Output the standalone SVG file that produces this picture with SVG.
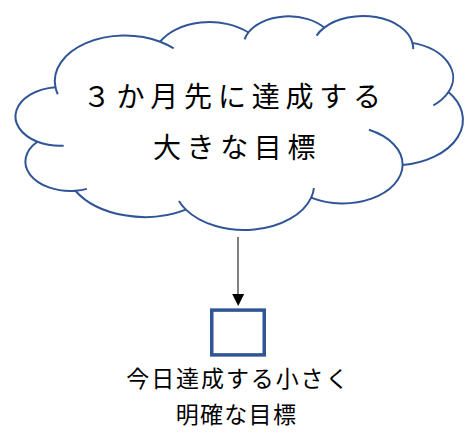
<svg xmlns="http://www.w3.org/2000/svg" width="472" height="439" viewBox="0 0 472 439">
  <style>
    .outline { stroke: #2F5597; stroke-width: 2; vector-effect: non-scaling-stroke; stroke-linejoin: round; }
    .txt { font-family: "Noto Sans CJK JP", "Noto Sans", sans-serif; fill: #000; text-anchor: middle; }
    .big { font-size: 28px; }
    .small { font-size: 23px; }
  </style>
  <rect width="472" height="439" fill="#fff"/>

  <g id="cloud">
    <g transform="translate(15,16) scale(0.0103704,0.0049537)">
      <path class="outline" fill="#fff" d="M3900,14370 A6753,9190 0 0 1 14000,5192 A5333,7267 0 0 1 22500,3330 A4365,5945 0 0 1 29820,2341 A4857,6595 0 0 1 38324,5426 A5333,7273 0 0 1 41798,15354 A6775,9220 0 0 1 37380,30090 A5785,7867 0 0 1 28560,36660 A6752,9215 0 0 1 16478,39090 A7720,10543 0 0 1 5820,35280 A4360,5918 0 0 1 2159,25379 A4345,5945 0 0 1 3900,14370 Z"/>
      <path class="outline" fill="none" d="M4693,26177 A4345,5945 0 0 1 2159,25379 M6928,34899 A4360,5918 0 0 1 5820,35280 M16478,39090 A6752,9215 0 0 1 15809,37347 M28827,34751 A6752,9215 0 0 1 28560,36660 M34129,22954 A5785,7867 0 0 1 37380,30090 M41798,15354 A5333,7273 0 0 1 40350,18030 M38324,5426 A4857,6595 0 0 1 38400,6690 M29078,3952 A4857,6595 0 0 1 29820,2341 M22141,4720 A4365,5945 0 0 1 22500,3330 M14000,5192 A6753,9190 0 0 1 15300,6540 M4127,15789 A6753,9190 0 0 1 3900,14370"/>
    </g>
    <text class="txt big" x="96.7 130.5 164.3 198.1 231.9 265.7 299.5 333.3 367.1" y="107.3">３か月先に達成する</text>
    <text class="txt big" x="167 200.6 234.2 267.8 301.4" y="158">大きな目標</text>
  </g>

  <g id="connectors">
    <line x1="238" y1="237" x2="238" y2="294" stroke="#7f7f7f" stroke-width="2"/>
    <path d="M232.2,294 L244.2,294 L238.2,306 Z" fill="#000"/>
  </g>

  <g id="small-goal">
    <rect x="211.75" y="310.1" width="52.5" height="44.8" fill="#fff" stroke="#2F5597" stroke-width="3.5"/>
    <text class="txt small" x="137.8 162.7 187.6 212.5 237.4 262.3 287.2 312.1 337" y="386.7">今日達成する小さく</text>
    <text class="txt small" x="187.2 211.5 235.8 260.1 284.4" y="423.4">明確な目標</text>
  </g>
</svg>
